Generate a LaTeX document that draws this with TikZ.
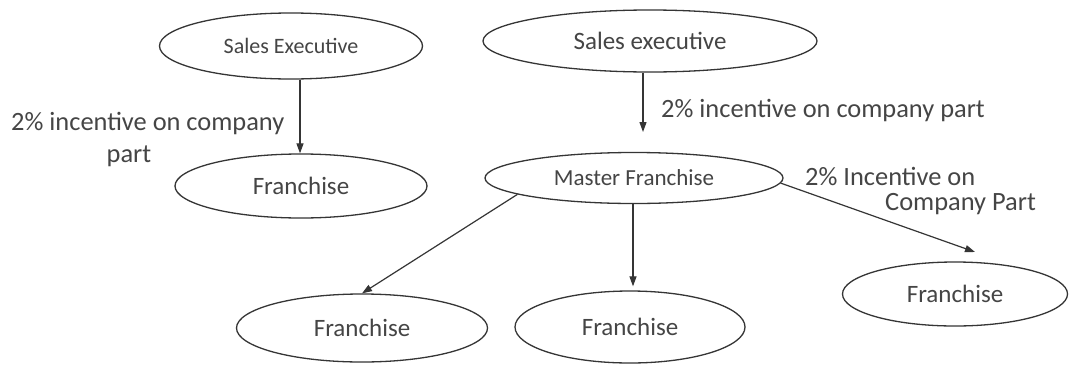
\documentclass[tikz,border=0pt]{standalone}
\usepackage{fontspec}
\setmainfont{Carlito}
\usetikzlibrary{shapes.geometric,arrows.meta}
\definecolor{ink}{HTML}{353535}
\definecolor{txt}{HTML}{454545}
\begin{document}
\begin{tikzpicture}[x=1pt,y=-1pt,
  oval/.style={ellipse, draw=ink, line width=1.3pt, inner sep=0pt, text=txt},
  conn/.style={draw=ink, line width=1.2pt, -{Triangle[length=10pt,width=7pt]}},
  lbl/.style={text=txt, inner sep=0pt, font=\fontsize{26.4}{30}\selectfont},
]
\useasboundingbox[fill=white] (0,0) rectangle (1075,367);
\node[oval, minimum width=263pt, minimum height=66pt, font=\fontsize{22}{26}\selectfont] (se1) at (291,46) {Sales Executive};
\node[oval, minimum width=252pt, minimum height=64pt, font=\fontsize{25}{29}\selectfont] (f1) at (301,186) {Franchise};
\node[oval, minimum width=334pt, minimum height=62pt, font=\fontsize{25}{29}\selectfont] (se2) at (650,41) {Sales executive};
\node[oval, minimum width=298pt, minimum height=51pt, font=\fontsize{23}{27}\selectfont] (mf) at (634,178) {Master Franchise};
\node[oval, minimum width=251pt, minimum height=68pt, font=\fontsize{25}{29}\selectfont] (f2) at (362,328) {Franchise};
\node[oval, minimum width=230pt, minimum height=72pt, font=\fontsize{25}{29}\selectfont] (f3) at (630,327) {Franchise};
\node[oval, minimum width=225pt, minimum height=64pt, font=\fontsize{25}{29}\selectfont] (f4) at (955,294) {Franchise};

\coordinate (t2) at (643,132);
\coordinate (t4) at (975,252);

\draw[conn] ([xshift=9pt]se1.south) -- ([xshift=-1pt]f1.north);
\draw[conn] ([xshift=-7pt]se2.south) -- (t2);
\draw[conn] (mf.188) -- (f2.north);
\draw[conn] ([xshift=-1pt]mf.south) -- ([xshift=3pt,yshift=4pt]f3.north);
\draw[conn] (mf.358) -- (t4);

\node[lbl, anchor=west] (l1a) at (11,123) {2\% incentive on company};
\node[lbl] (l1b) at (129,156) {part};
\node[lbl, anchor=west] (l2) at (661,110) {2\% incentive on company part};
\node[lbl, anchor=west] (l3a) at (805,176) {2\% Incentive on};
\node[lbl, anchor=west] (l3b) at (885,204) {Company Part};
\end{tikzpicture}
\end{document}
